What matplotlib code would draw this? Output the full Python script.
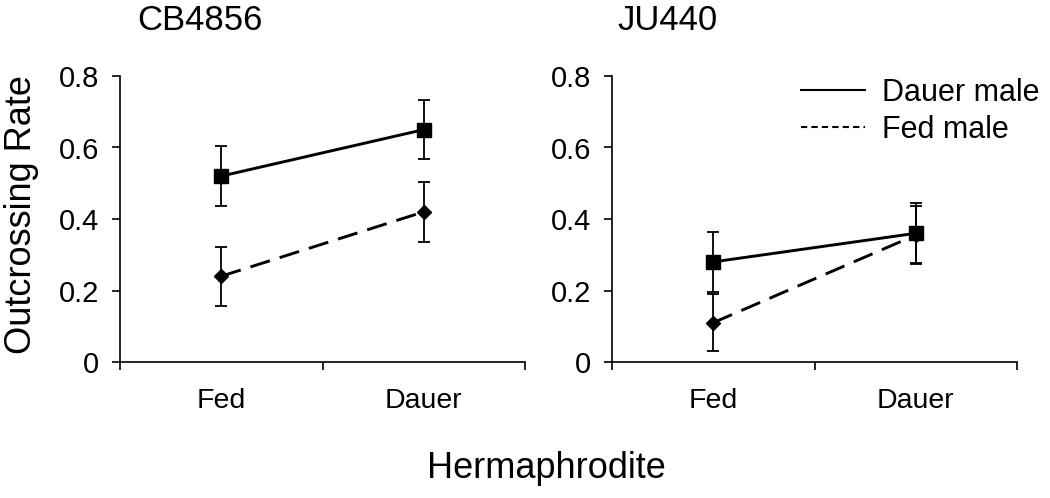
import numpy as np
import matplotlib
matplotlib.use("Agg")
import matplotlib.pyplot as plt
from matplotlib.lines import Line2D

plt.rcParams['font.family'] = ['Liberation Sans', 'DejaVu Sans']

categories = ['Fed', 'Dauer']
panels = ['CB4856', 'JU440']
series_names = ['Dauer male', 'Fed male']

cb_dauer_male = [0.52, 0.65]
cb_dauer_male_err = [0.083, 0.083]
cb_fed_male = [0.24, 0.42]
cb_fed_male_err = [0.083, 0.083]

ju_dauer_male = [0.28, 0.36]
ju_dauer_male_err = [0.084, 0.084]
ju_fed_male = [0.11, 0.355]
ju_fed_male_err = [0.08, 0.08]

yticks = [0, 0.2, 0.4, 0.6, 0.8]
ytick_labels = ['0', '0.2', '0.4', '0.6', '0.8']

W, H = 1050, 498
fig = plt.figure(figsize=(W / 100, H / 100), dpi=100)

def px_ax(x0, x1, ytop, ybot):
    return fig.add_axes([x0 / W, 1 - ybot / H, (x1 - x0) / W, (ybot - ytop) / H])

ax1 = px_ax(120, 525, 76, 362)
ax2 = px_ax(612, 1017, 76, 362)

data = [
    (ax1, cb_dauer_male, cb_dauer_male_err, cb_fed_male, cb_fed_male_err),
    (ax2, ju_dauer_male, ju_dauer_male_err, ju_fed_male, ju_fed_male_err),
]

x = np.arange(len(categories)) + 0.5
for ax, dm, dme, fm, fme in data:
    ax.errorbar(x, fm, yerr=fme, color='black', lw=2.1, ecolor='black',
                elinewidth=1.3, capsize=4, capthick=1.3, marker='D',
                markersize=7.5, linestyle=(0, (7, 3.5)), zorder=2)
    ax.errorbar(x, dm, yerr=dme, color='black', lw=2.1, ecolor='black',
                elinewidth=1.3, capsize=4, capthick=1.3, marker='s',
                markersize=10, linestyle='-', zorder=3)
    ax.set_xlim(0, len(categories))
    ax.set_ylim(0, 0.8)
    ax.set_yticks(yticks)
    ax.set_yticklabels(ytick_labels, fontsize=21)
    ax.set_xticks(np.arange(len(categories) + 1))
    ax.set_xticklabels([])
    ax.set_xticks(x, minor=True)
    ax.set_xticklabels(categories, minor=True, fontsize=20.5)
    ax.tick_params(axis='x', which='major', direction='out', length=6, width=1.2)
    ax.tick_params(axis='x', which='minor', length=0, pad=19)
    ax.tick_params(axis='y', direction='out', length=6, width=1.2, pad=9)
    for s in ['top', 'right']:
        ax.spines[s].set_visible(False)
    for s in ['left', 'bottom']:
        ax.spines[s].set_linewidth(1.2)

fig.text(137 / W, 1 - 21 / H, panels[0], fontsize=25, ha='left', va='center')
fig.text(617 / W, 1 - 21 / H, panels[1], fontsize=25, ha='left', va='center')
fig.text(546 / W, 1 - 468 / H, 'Hermaphrodite', fontsize=26, ha='center', va='center')
fig.text(22 / W, 1 - 215 / H, 'Outcrossing Rate', fontsize=26, ha='center',
         va='center', rotation=90)

handles = [Line2D([], [], color='black', lw=1.5, linestyle='-'),
           Line2D([], [], color='black', lw=1.5, linestyle=(0, (3, 2)))]
ax2.legend(handles, series_names, loc='upper left', bbox_to_anchor=(801 / W, 1 - 78 / H),
           bbox_transform=fig.transFigure, frameon=False, fontsize=22,
           handlelength=2.1, handletextpad=0.55, labelspacing=0.22, borderpad=0,
           borderaxespad=0)

fig.savefig('out.png', dpi=100)
